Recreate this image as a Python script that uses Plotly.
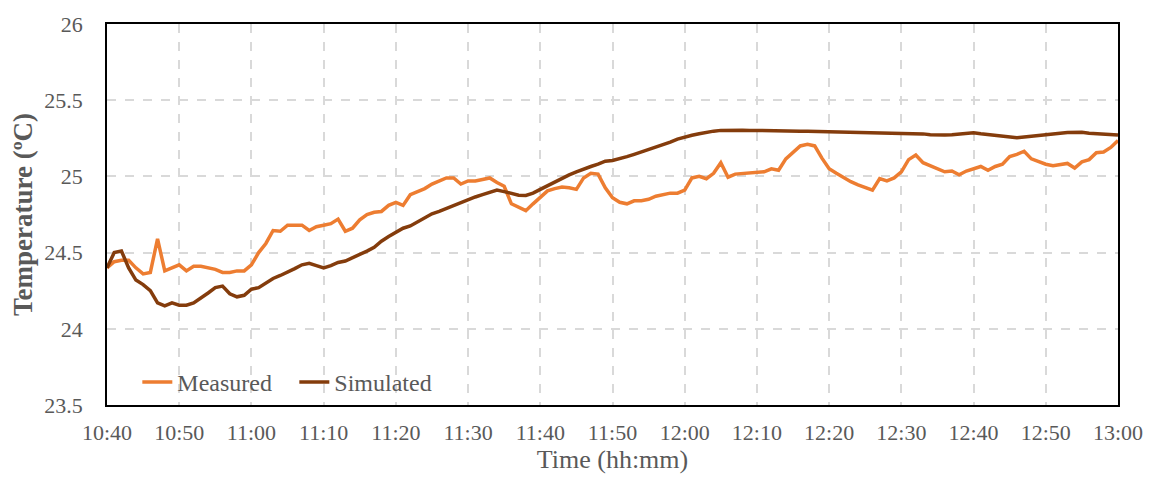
import plotly.graph_objects as go
import pandas as pd

start_time = "2020-01-01 10:40"
n_points = 141
times = pd.date_range(start_time, periods=n_points, freq="1min")

measured = [
    24.40, 24.44, 24.45, 24.45, 24.40, 24.36, 24.37, 24.59, 24.38, 24.40,
    24.42, 24.38, 24.41, 24.41, 24.40, 24.39, 24.37, 24.37, 24.38, 24.38,
    24.42, 24.50, 24.56, 24.645, 24.64, 24.68, 24.68, 24.68, 24.645, 24.67,
    24.68, 24.69, 24.72, 24.64, 24.66, 24.715, 24.75, 24.765, 24.77, 24.81,
    24.83, 24.81, 24.88, 24.90, 24.92, 24.95, 24.97, 24.99, 24.99, 24.95,
    24.97, 24.97, 24.98, 24.99, 24.96, 24.935, 24.82, 24.80, 24.775, 24.82,
    24.865, 24.905, 24.92, 24.93, 24.925, 24.915, 24.99, 25.02, 25.015, 24.925,
    24.86, 24.83, 24.82, 24.84, 24.84, 24.85, 24.87, 24.88, 24.89, 24.89,
    24.91, 24.99, 25.00, 24.985, 25.02, 25.09, 24.995, 25.015, 25.02, 25.02,
    25.03, 25.03, 25.05, 25.04, 25.115, 25.16, 25.20, 25.21, 25.20, 25.12,
    25.05, 25.02, 24.99, 24.965, 24.945, 24.93, 24.91, 24.985, 24.97, 24.99,
    25.03, 25.11, 25.14, 25.09, 25.07, 25.05, 25.03, 25.035, 25.01, 25.035,
    25.05, 25.065, 25.04, 25.065, 25.08, 25.13, 25.145, 25.165, 25.115, 25.095,
    25.08, 25.07, 25.075, 25.085, 25.055, 25.095, 25.11, 25.155, 25.16, 25.19,
    25.235,
]

simulated = [
    24.40, 24.50, 24.51, 24.40, 24.32, 24.29, 24.25, 24.17, 24.15, 24.17,
    24.155, 24.155, 24.17, 24.20, 24.235, 24.27, 24.28, 24.23, 24.21, 24.22,
    24.26, 24.27, 24.30, 24.33, 24.35, 24.37, 24.395, 24.42, 24.43, 24.415,
    24.40, 24.415, 24.435, 24.445, 24.465, 24.49, 24.51, 24.535, 24.575, 24.605,
    24.63, 24.66, 24.675, 24.70, 24.725, 24.755, 24.77, 24.79, 24.81, 24.83,
    24.85, 24.865, 24.88, 24.895, 24.91, 24.90, 24.886, 24.877, 24.875, 24.89,
    24.915, 24.94, 24.965, 24.985, 25.01, 25.03, 25.05, 25.065, 25.08, 25.10,
    25.105, 25.115, 25.13, 25.145, 25.16, 25.175, 25.19, 25.205, 25.225, 25.245,
    25.26, 25.27, 25.28, 25.29, 25.297, 25.302, 25.304, 25.303, 25.303, 25.302,
    25.302, 25.301, 25.300, 25.300, 25.299, 25.298, 25.297, 25.296, 25.295, 25.293,
    25.292, 25.291, 25.290, 25.289, 25.288, 25.287, 25.286, 25.285, 25.284, 25.284,
    25.285, 25.285, 25.283, 25.279, 25.273, 25.271, 25.272, 25.274, 25.278, 25.283,
    25.287, 25.280, 25.274, 25.268, 25.262, 25.256, 25.253, 25.258, 25.264, 25.270,
    25.274, 25.278, 25.283, 25.288, 25.290, 25.289, 25.283, 25.280, 25.279, 25.277,
    25.272,
]

y_ticks = [23.5, 24, 24.5, 25, 25.5, 26]
y_tick_labels = ["23.5", "24", "24.5", "25", "25.5", "26"]

FONT = "Liberation Serif, Times New Roman, serif"
TXT = "#595959"

fig = go.Figure()
fig.add_trace(go.Scatter(x=times, y=measured, mode="lines", name="Measured",
                         line=dict(color="#ED7D31", width=3.5)))
fig.add_trace(go.Scatter(x=times, y=simulated, mode="lines", name="Simulated",
                         line=dict(color="#843C0C", width=3.5)))

fig.update_layout(
    width=1155, height=481,
    margin=dict(l=107, r=31, t=18, b=76),
    paper_bgcolor="white", plot_bgcolor="white",
    font=dict(family=FONT, size=22, color=TXT),
    legend=dict(orientation="h", x=0.030, y=0.0, xanchor="left", yanchor="bottom",
                bgcolor="rgba(0,0,0,0)", font=dict(size=24, color=TXT),
                entrywidth=112, entrywidthmode="pixels", tracegroupgap=0),
    showlegend=True,
)
fig.update_xaxes(
    range=[times[0], times[-1]],
    tickformat="%H:%M", dtick=600000, tick0=times[0],
    tickfont=dict(size=22, color=TXT),
    showgrid=True, gridcolor="#d9d9d9", griddash="dash", gridwidth=1.5,
    showline=True, linecolor="black", linewidth=1.5, mirror=True,
    ticks="outside", ticklen=7, tickcolor="rgba(0,0,0,0)",
    title=dict(text="Time (hh:mm)", font=dict(size=26, color=TXT), standoff=6),
    zeroline=False,
)
fig.update_yaxes(
    range=[23.5, 26], tickvals=y_ticks, ticktext=y_tick_labels,
    tickfont=dict(size=22, color=TXT),
    showgrid=True, gridcolor="#d9d9d9", griddash="dash", gridwidth=1.5,
    showline=True, linecolor="black", linewidth=1.5, mirror=True,
    ticks="outside", ticklen=18, tickcolor="rgba(0,0,0,0)",
    title=dict(text="<b>Temperature (ºC)</b>", font=dict(size=27, color=TXT), standoff=4),
    zeroline=False,
)

fig.write_html("out.html")
